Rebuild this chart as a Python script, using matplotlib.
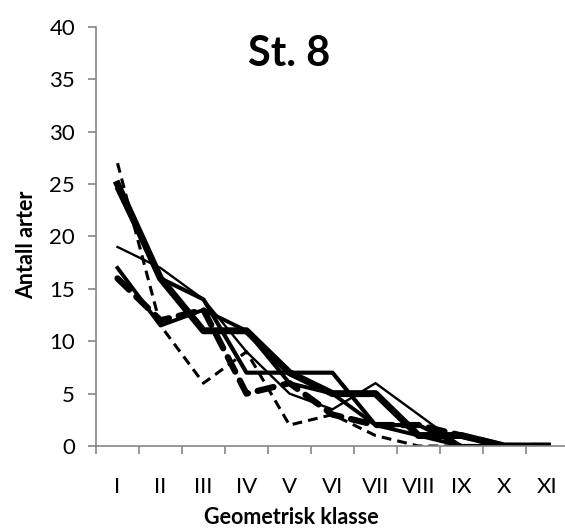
import matplotlib
matplotlib.use('Agg')
import matplotlib.pyplot as plt

plt.rcParams['font.family'] = ['Lato', 'DejaVu Sans']

klasser = ['I', 'II', 'III', 'IV', 'V', 'VI', 'VII', 'VIII', 'IX', 'X', 'XI']

# antall arter per geometrisk klasse, lest av figuren
serie_stiplet = [27, 11.5, 6, 9, 2, 3, 1, 0, 0, 0, 0]
serie_tykk = [25, 16, 11, 11, 7, 5, 5, 1, 1, 0, 0]
serie_middels = [24.5, 16, 14, 7, 7, 7, 2, 2, 0, 0, 0]
serie_tynn = [19, 17, 14, 9, 5, 3.5, 6, 3, 0, 0, 0]
serie_tykk_stiplet = [16, 12, 13, 5, 6, 3, 2, 2, 1, 0, 0]
serie_middels2 = [17, 11.5, 13, 11, 6, 5, 2, 1, 0, 0, 0]

x = list(range(1, len(klasser) + 1))

fig = plt.figure(figsize=(5.65, 5.28), dpi=100)
ax = fig.add_axes([96 / 565, 82 / 528, 473 / 565, 419 / 528])

ax.plot(x, serie_tynn, color='black', linewidth=1.7)
ax.plot(x, serie_middels2, color='black', linewidth=2.8)
ax.plot(x, serie_middels, color='black', linewidth=3.0)
ax.plot(x, serie_tykk, color='black', linewidth=5.0)
ax.plot(x, serie_tykk_stiplet, color='black', linewidth=4.5, dashes=(2.6, 1.6),
        dash_capstyle='round')
ax.plot(x, serie_stiplet, color='black', linewidth=2.2, dashes=(3.2, 2))

ax.set_xlim(0.5, 11.5)
ax.set_ylim(0, 40)
ax.set_yticks(range(0, 41, 5))
ax.set_xticks(x)
ax.set_xticklabels(klasser)
ax.set_xticks([k + 0.5 for k in range(0, 11)], minor=True)

for side in ['top', 'right']:
    ax.spines[side].set_visible(False)
for side in ['left', 'bottom']:
    ax.spines[side].set_color('#868686')
    ax.spines[side].set_linewidth(1.2)

ax.tick_params(axis='x', which='major', length=0, pad=22, labelsize=16)
ax.tick_params(axis='x', which='minor', length=6, width=1.2, color='#868686', direction='out')
ax.tick_params(axis='y', length=6, width=1.2, color='#868686', direction='out', pad=9, labelsize=16)

ax.set_xlabel('Geometrisk klasse', fontsize=15.5, fontweight='bold', labelpad=5)
ax.xaxis.set_label_coords((291 - 96) / 473, -0.145)
ax.set_ylabel('Antall arter', fontsize=15.5, fontweight='bold')
ax.yaxis.set_label_coords(-0.125, (446 - 245) / 419)

ax.text((289 - 96) / 473, 0.935, 'St. 8', transform=ax.transAxes, fontsize=30,
        fontweight='bold', ha='center', va='center')

fig.savefig('out.png', dpi=100)
